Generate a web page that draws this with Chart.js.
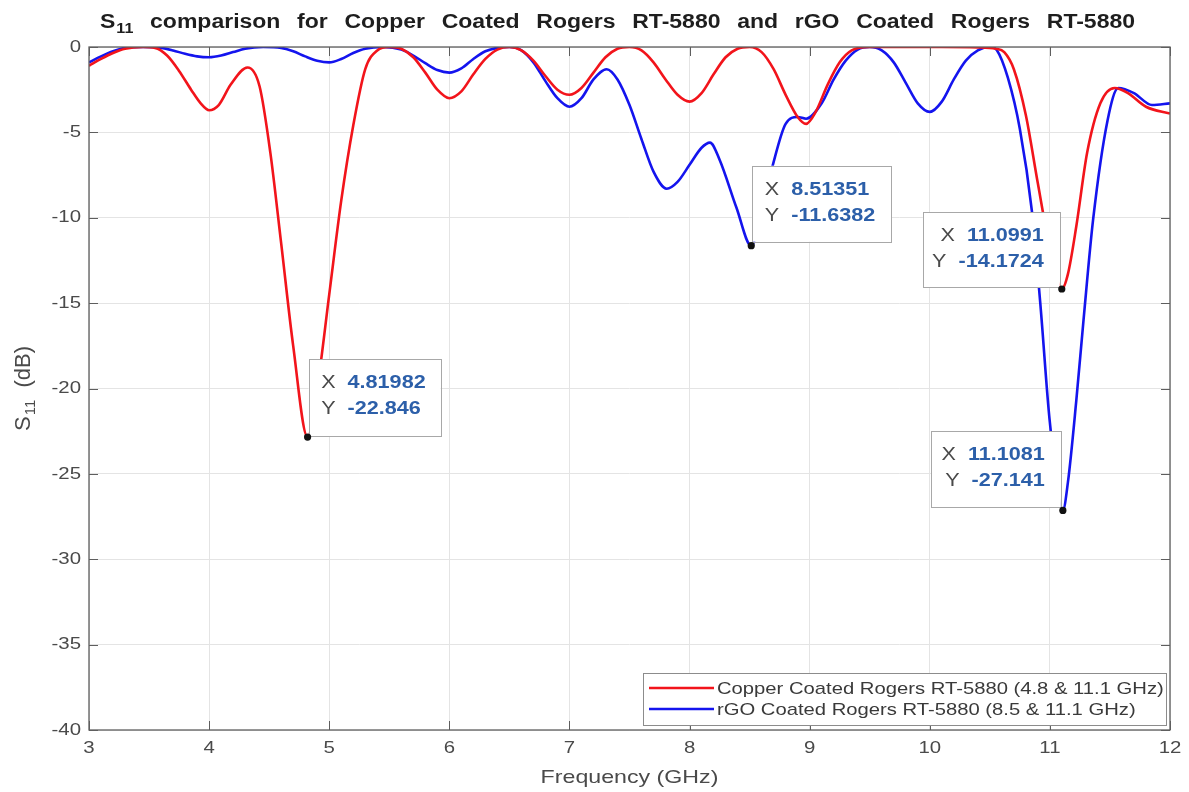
<!DOCTYPE html>
<html>
<head>
<meta charset="utf-8">
<script src="https://cdn.jsdelivr.net/npm/chart.js@4.4.1/dist/chart.umd.min.js"></script>
<style>
  html, body { margin: 0; padding: 0; background: #fff; }
  #wrap { width: 1189px; height: 792px; }
</style>
</head>
<body>
<div id="wrap"><canvas id="s11Chart" width="1189" height="792"></canvas></div>
<script>
// Data
const freqCopper = [3.0, 3.1, 3.2, 3.3, 3.45, 3.55, 3.65, 3.75, 3.85, 3.93, 4.0, 4.08, 4.18, 4.32, 4.42, 4.51, 4.6, 4.7,
    4.81982, 4.9, 5.0, 5.1, 5.2, 5.3, 5.4, 5.5, 5.6, 5.7, 5.8, 5.9, 6.0, 6.1, 6.2, 6.3, 6.4, 6.5,
    6.6, 6.7, 6.8, 6.9, 7.0, 7.1, 7.2, 7.3, 7.4, 7.5, 7.6, 7.7, 7.8, 7.9, 8.0, 8.1, 8.2, 8.3, 8.4, 8.5,
    8.6, 8.7, 8.8, 8.9, 8.97, 9.05, 9.15, 9.25, 9.35, 9.5, 9.8, 10.1, 10.4, 10.55, 10.62, 10.7, 10.8, 10.9,
    11.0, 11.0991, 11.15, 11.22, 11.31, 11.42, 11.54, 11.65, 11.8, 12.0];
const s11Copper = [-1.1, -0.7, -0.35, -0.1, 0, -0.05, -0.5, -1.4, -2.5, -3.3, -3.7, -3.4, -2.2, -1.2, -2.3, -6.2, -11.5, -17.5,
    -22.846, -20.0, -14.5, -9.0, -4.6, -1.3, -0.2, 0, -0.1, -0.6, -1.5, -2.5, -3.0, -2.6, -1.6, -0.7, -0.15, 0,
    -0.2, -0.8, -1.7, -2.5, -2.8, -2.4, -1.5, -0.6, -0.1, 0, -0.2, -0.9, -1.9, -2.8, -3.2, -2.7, -1.6, -0.6, -0.1, 0,
    -0.3, -1.3, -2.8, -4.1, -4.5, -3.8, -2.2, -0.9, -0.2, 0, 0, 0, -0.02, -0.1, -0.3, -1.3, -4.0, -8.0,
    -11.8, -14.1724, -13.3, -10.5, -6.2, -3.3, -2.4, -2.7, -3.5, -3.9];

const freqRgo = [3.0, 3.1, 3.2, 3.3, 3.45, 3.6, 3.7, 3.8, 3.9, 4.0, 4.1, 4.2, 4.3, 4.45, 4.6, 4.7, 4.8, 4.9, 5.0,
    5.1, 5.2, 5.3, 5.45, 5.6, 5.7, 5.8, 5.9, 6.0, 6.1, 6.2, 6.3, 6.4, 6.5, 6.6, 6.7, 6.8, 6.9, 7.0, 7.1, 7.2,
    7.31, 7.4, 7.5, 7.6, 7.7, 7.81, 7.9, 8.0, 8.1, 8.17, 8.25, 8.39, 8.51351, 8.6, 8.69, 8.8, 8.9, 8.97,
    9.1, 9.2, 9.3, 9.4, 9.5, 9.6, 9.7, 9.8, 9.9, 10.0, 10.1, 10.2, 10.3, 10.4, 10.5, 10.56, 10.65, 10.75,
    10.85, 10.92, 11.0, 11.1081, 11.15, 11.22, 11.28, 11.36, 11.48, 11.57, 11.7, 11.85, 12.0];
const s11Rgo = [-0.9, -0.55, -0.25, -0.05, 0, -0.05, -0.2, -0.4, -0.55, -0.6, -0.5, -0.3, -0.1, 0, -0.05, -0.25, -0.55, -0.8, -0.9,
    -0.7, -0.35, -0.1, 0, -0.15, -0.5, -0.95, -1.35, -1.5, -1.25, -0.7, -0.25, -0.05, 0, -0.2, -0.9, -2.0, -3.0, -3.5, -3.0, -1.9,
    -1.3, -1.9, -3.4, -5.4, -7.3, -8.3, -7.9, -6.9, -5.9, -5.6, -6.6, -9.4, -11.6382, -9.6, -7.0, -4.5, -4.1, -4.2,
    -3.3, -1.9, -0.8, -0.15, 0, -0.2, -0.9, -2.1, -3.3, -3.8, -3.2, -1.9, -0.8, -0.2, 0, -0.2, -1.8, -4.8,
    -9.6, -15.0, -22.0, -27.141, -25.5, -20.7, -16.0, -10.1, -4.3, -2.4, -2.7, -3.4, -3.3];

const seriesNames = ['Copper Coated Rogers RT-5880 (4.8 & 11.1 GHz)', 'rGO Coated Rogers RT-5880 (8.5 & 11.1 GHz)'];
const seriesColors = ['#f2141b', '#1414ee'];

const xTickValues = [3, 4, 5, 6, 7, 8, 9, 10, 11, 12];
const yTickValues = [0, -5, -10, -15, -20, -25, -30, -35, -40];

// data tips
const tipFreq = [4.81982, 8.51351, 11.0991, 11.1081];
const tipS11 = [-22.846, -11.6382, -14.1724, -27.141];

// tip box placement relative to the marked point
const tipLayout = [
    { side: 'right', dx: 1, dy: -1, w: 132, h: 77, align: 'left' },
    { side: 'right', dx: 1, dy: -4, w: 139, h: 76, align: 'left' },
    { side: 'left', dx: -2, dy: -2, w: 137, h: 75, align: 'right' },
    { side: 'left', dx: -2, dy: -3, w: 130, h: 76, align: 'right' }
];

const FONT = '"Liberation Sans", Arial, Helvetica, sans-serif';
const AXIS_GREY = '#5e5e5e';
const TEXT_GREY = '#4a4a4a';
const SX = 1.2; // the original figure's text is a bit wide

function toPoints(xs, ys) {
    return xs.map((x, i) => ({ x: x, y: ys[i] }));
}

// draws text squeezed/stretched horizontally, returns drawn width
function wideText(ctx, text, x, y, align, sx) {
    const w = ctx.measureText(text).width * sx;
    let left = x;
    if (align === 'center') left = x - w / 2;
    else if (align === 'right') left = x - w;
    ctx.save();
    ctx.textAlign = 'left';
    ctx.translate(left, y);
    ctx.scale(sx, 1);
    ctx.fillText(text, 0, 0);
    ctx.restore();
    return w;
}

function measureWide(ctx, text, sx) {
    return ctx.measureText(text).width * sx;
}

const decorPlugin = {
    id: 'decor',
    beforeDraw(chart) {
        const ctx = chart.ctx;
        ctx.save();
        ctx.fillStyle = '#fff';
        ctx.fillRect(0, 0, chart.width, chart.height);
        ctx.restore();
    },
    afterDatasetsDraw(chart) {
        const ctx = chart.ctx;
        const a = chart.chartArea;
        const xs = chart.scales.x, ys = chart.scales.y;
        ctx.save();

        // box + inward ticks
        ctx.strokeStyle = AXIS_GREY;
        ctx.lineWidth = 1.3;
        ctx.strokeRect(a.left, a.top, a.right - a.left, a.bottom - a.top);
        ctx.lineWidth = 1;
        ctx.beginPath();
        xs.ticks.forEach(t => {
            const px = Math.round(xs.getPixelForValue(t.value)) + 0.5;
            ctx.moveTo(px, a.bottom); ctx.lineTo(px, a.bottom - 9);
            ctx.moveTo(px, a.top); ctx.lineTo(px, a.top + 9);
        });
        ys.ticks.forEach(t => {
            const py = Math.round(ys.getPixelForValue(t.value)) + 0.5;
            ctx.moveTo(a.left, py); ctx.lineTo(a.left + 9, py);
            ctx.moveTo(a.right, py); ctx.lineTo(a.right - 9, py);
        });
        ctx.stroke();

        // tick labels
        ctx.fillStyle = TEXT_GREY;
        ctx.font = '17px ' + FONT;
        ctx.textBaseline = 'middle';
        xs.ticks.forEach(t => {
            wideText(ctx, String(t.value), xs.getPixelForValue(t.value), a.bottom + 18, 'center', SX);
        });
        ys.ticks.forEach(t => {
            wideText(ctx, String(t.value), a.left - 8, ys.getPixelForValue(t.value), 'right', SX);
        });

        // data tips
        tipFreq.forEach((f, i) => {
            const L = tipLayout[i];
            const px = xs.getPixelForValue(f);
            const py = ys.getPixelForValue(tipS11[i]);
            const bottom = py + L.dy;
            const top = bottom - L.h;
            const left = L.side === 'right' ? px + L.dx : px + L.dx - L.w;

            ctx.fillStyle = '#fff';
            ctx.fillRect(left, top, L.w, L.h);
            ctx.strokeStyle = '#a8a8a8';
            ctx.lineWidth = 1;
            ctx.strokeRect(Math.round(left) + 0.5, Math.round(top) + 0.5, L.w, L.h);

            const rows = [['X', String(f)], ['Y', String(tipS11[i])]];
            ctx.textBaseline = 'middle';
            rows.forEach((r, k) => {
                const cy = top + 24 + k * 26;
                ctx.font = 'bold 18px ' + FONT;
                const vw = measureWide(ctx, r[1], SX);
                const vx = L.align === 'left' ? left + 39 : left + L.w - 16 - vw;
                ctx.fillStyle = '#2c5fa9';
                wideText(ctx, r[1], vx, cy, 'left', SX);
                ctx.font = '18px ' + FONT;
                ctx.fillStyle = '#4a4a4a';
                wideText(ctx, r[0], vx - 12, cy, 'right', SX);
            });

            ctx.fillStyle = '#111';
            ctx.beginPath();
            ctx.arc(px, py, 3.6, 0, Math.PI * 2);
            ctx.fill();
        });

        // legend
        const lg = { left: 643, top: 673, w: 523, h: 52 };
        ctx.fillStyle = '#fff';
        ctx.fillRect(lg.left, lg.top, lg.w, lg.h);
        ctx.strokeStyle = '#8c8c8c';
        ctx.lineWidth = 1;
        ctx.strokeRect(lg.left + 0.5, lg.top + 0.5, lg.w, lg.h);
        seriesNames.forEach((name, i) => {
            const cy = lg.top + 15 + i * 21;
            ctx.strokeStyle = seriesColors[i];
            ctx.lineWidth = 2.6;
            ctx.beginPath();
            ctx.moveTo(lg.left + 6, cy); ctx.lineTo(lg.left + 71, cy);
            ctx.stroke();
            ctx.font = '17px ' + FONT;
            ctx.fillStyle = '#3a3a3a';
            ctx.textBaseline = 'middle';
            wideText(ctx, name, lg.left + 74, cy + 1, 'left', 1.19);
        });
        ctx.restore();
    },
    afterDraw(chart) {
        const ctx = chart.ctx;
        const a = chart.chartArea;
        ctx.save();
        ctx.textBaseline = 'alphabetic';

        // title, spread across the width like the original
        const words = 'comparison for Copper Coated Rogers RT-5880 and rGO Coated Rogers RT-5880'.split(' ');
        const tFont = 'bold 20px ' + FONT, tSub = 'bold 14px ' + FONT;
        const tsx = 1.15;
        ctx.font = tFont;
        const sW = measureWide(ctx, 'S', tsx);
        const wordW = words.map(w => measureWide(ctx, w, tsx));
        ctx.font = tSub;
        const subW = measureWide(ctx, '11', tsx) + 1;
        const total = sW + subW + wordW.reduce((s, v) => s + v, 0);
        const x0 = 100, x1 = 1135;
        const gap = (x1 - x0 - total) / words.length;
        ctx.fillStyle = '#1e1e1e';
        let x = x0;
        ctx.font = tFont;
        x += wideText(ctx, 'S', x, 28, 'left', tsx) + 1;
        ctx.font = tSub;
        x += wideText(ctx, '11', x, 33, 'left', tsx);
        ctx.font = tFont;
        words.forEach((w, i) => {
            x += gap;
            x += wideText(ctx, w, x, 28, 'left', tsx);
        });

        // x axis title
        ctx.fillStyle = TEXT_GREY;
        ctx.font = '19px ' + FONT;
        wideText(ctx, 'Frequency (GHz)', (a.left + a.right) / 2, 783, 'center', 1.22);

        // y axis title (rotated)
        ctx.translate(30, (a.top + a.bottom) / 2);
        ctx.rotate(-Math.PI / 2);
        ctx.textAlign = 'left';
        const mainF = '22px ' + FONT, subF = '15px ' + FONT;
        ctx.font = mainF;
        const w1 = ctx.measureText('S').width;
        const w3 = ctx.measureText('  (dB)').width;
        ctx.font = subF;
        const w2 = ctx.measureText('11').width;
        let yx = -(w1 + 1 + w2 + w3) / 2;
        ctx.font = mainF;
        ctx.fillText('S', yx, 0);
        yx += w1 + 1;
        ctx.font = subF;
        ctx.fillText('11', yx, 5);
        yx += w2;
        ctx.font = mainF;
        ctx.fillText('  (dB)', yx, 0);
        ctx.restore();
    }
};

const ctx = document.getElementById('s11Chart').getContext('2d');
const s11Chart = new Chart(ctx, {
    type: 'line',
    data: {
        datasets: [
            {
                label: seriesNames[0],
                data: toPoints(freqCopper, s11Copper),
                borderColor: seriesColors[0],
                borderWidth: 2.6,
                pointRadius: 0,
                cubicInterpolationMode: 'monotone',
                fill: false
            },
            {
                label: seriesNames[1],
                data: toPoints(freqRgo, s11Rgo),
                borderColor: seriesColors[1],
                borderWidth: 2.6,
                pointRadius: 0,
                cubicInterpolationMode: 'monotone',
                fill: false
            }
        ]
    },
    options: {
        responsive: false,
        animation: false,
        devicePixelRatio: 1,
        layout: { padding: { top: 47, right: 19, left: 0, bottom: 0 } },
        plugins: { legend: { display: false }, tooltip: { enabled: false }, title: { display: false } },
        scales: {
            x: {
                type: 'linear',
                min: 3, max: 12,
                afterBuildTicks: s => { s.ticks = xTickValues.map(v => ({ value: v })); },
                afterFit: s => { s.height = 62; },
                grid: { color: '#e4e4e4', lineWidth: 1, drawTicks: false },
                border: { display: false },
                ticks: { display: false }
            },
            y: {
                type: 'linear',
                min: -40, max: 0,
                afterBuildTicks: s => { s.ticks = yTickValues.map(v => ({ value: v })); },
                afterFit: s => { s.width = 89; },
                grid: { color: '#e4e4e4', lineWidth: 1, drawTicks: false },
                border: { display: false },
                ticks: { display: false }
            }
        }
    },
    plugins: [decorPlugin]
});
</script>
</body>
</html>
